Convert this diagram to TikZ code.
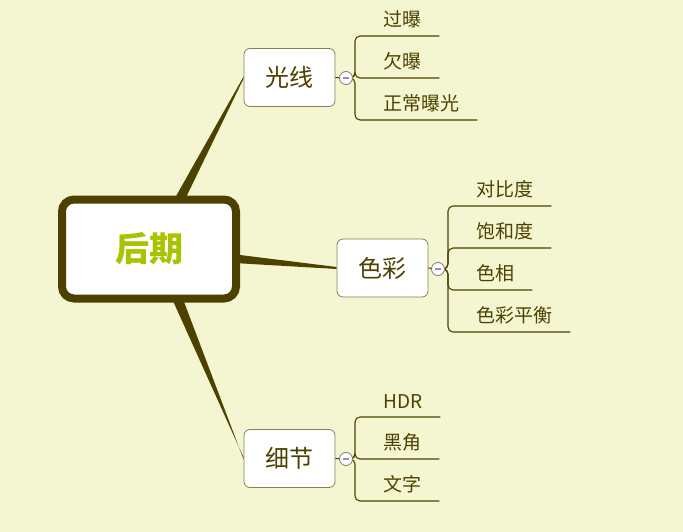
\documentclass[tikz,border=0pt]{standalone}
\usepackage{fontspec}
\setmainfont{Noto Sans CJK SC}
\usepackage{xcolor}
\usepackage{tikz}
\usetikzlibrary{positioning,backgrounds}

\definecolor{mapbg}{HTML}{F4F6D2}
\definecolor{mapdark}{HTML}{4D4100}
\definecolor{hubtext}{HTML}{A9C300}
\definecolor{boxline}{HTML}{8A7F55}
\definecolor{foldline}{HTML}{7E7C6E}
\definecolor{foldmark}{HTML}{8D93C4}

\begin{document}
\begin{tikzpicture}[x=1pt,y=-1pt,
  hub/.style={draw=mapdark,line width=8pt,fill=white,rounded corners=12pt,
              minimum width=174pt,minimum height=99pt,text=hubtext,
              font=\fontsize{34}{40}\selectfont\bfseries},
  topic/.style={draw=boxline,line width=0.8pt,fill=white,rounded corners=6pt,minimum width=91pt,
                minimum height=58pt,text=mapdark,font=\fontsize{24}{28}\selectfont},
  fold/.style={circle,draw=foldline,line width=0.8pt,fill=white,minimum size=13pt,inner sep=0pt,
               path picture={\draw[foldmark,line width=1.2pt]
                 ([xshift=-3pt]path picture bounding box.center) --
                 ([xshift=3pt]path picture bounding box.center);}},
  leaf/.style={anchor=south west,inner xsep=18pt,inner ysep=8pt,text=mapdark,
               font=\fontsize{19}{22}\selectfont},
  limb/.style={draw=mapdark,line width=1.1pt,rounded corners=5pt},
  branch/.style={fill=mapdark}]
\useasboundingbox (0,0) rectangle (683,532);
% central topic and main topics
\node[hub] (hq) at (149,249) {后期};
\node[topic] (gx) at (289.5,77.5) {光线};
\node[topic] (cs) at (382.5,268) {色彩};
\node[topic] (xj) at (289.5,458.5) {细节};
% leaves
\node[leaf] (gx1) at (365,36) {过曝};
\node[leaf] (gx2) at (365,78) {欠曝};
\node[leaf] (gx3) at (365,120) {正常曝光};
\node[leaf] (cs1) at (458,206) {对比度};
\node[leaf] (cs2) at (458,248) {饱和度};
\node[leaf] (cs3) at (458,290) {色相};
\node[leaf] (cs4) at (458,332) {色彩平衡};
\node[leaf] (xj1) at (365,417) {HDR};
\node[leaf] (xj2) at (365,459) {黑角};
\node[leaf] (xj3) at (365,501) {文字};
\begin{scope}[on background layer]
\fill[mapbg] (0,0) rectangle (683,532);
\fill[branch] ([xshift=24pt,yshift=-6pt]hq.north) -- ([yshift=1pt]gx.west)
  -- ([yshift=-1pt]gx.west) -- ([xshift=35pt,yshift=-6pt]hq.north) -- cycle;
\fill[branch] ([yshift=-6pt]hq.east) -- ([yshift=1pt]cs.west)
  -- ([yshift=-1pt]cs.west) -- ([xshift=-6pt,yshift=-14pt]hq.east) -- cycle;
\fill[branch] ([xshift=22pt,yshift=6pt]hq.south) -- ([yshift=1pt]xj.west)
  -- ([yshift=-1pt]xj.west) -- ([xshift=33pt,yshift=6pt]hq.south) -- cycle;
\end{scope}
\coordinate (agx) at (346,78);
\coordinate (acs) at (438,269);
\coordinate (axj) at (346,459);
\draw[limb] (gx.east) -- (agx);
\draw[limb] (cs.east) -- (acs);
\draw[limb] (xj.east) -- (axj);
\foreach \l in {gx1,gx2,gx3} \draw[limb] (agx) -- ++(9,0) |- (\l.south east);
\foreach \l in {cs1,cs2,cs3,cs4} \draw[limb] (acs) -- ++(10,0) |- (\l.south east);
\foreach \l in {xj1,xj2,xj3} \draw[limb] (axj) -- ++(9,0) |- (\l.south east);
\node[fold] (fgx) at (agx) {};
\node[fold] (fcs) at (acs) {};
\node[fold] (fxj) at (axj) {};
\end{tikzpicture}
\end{document}
